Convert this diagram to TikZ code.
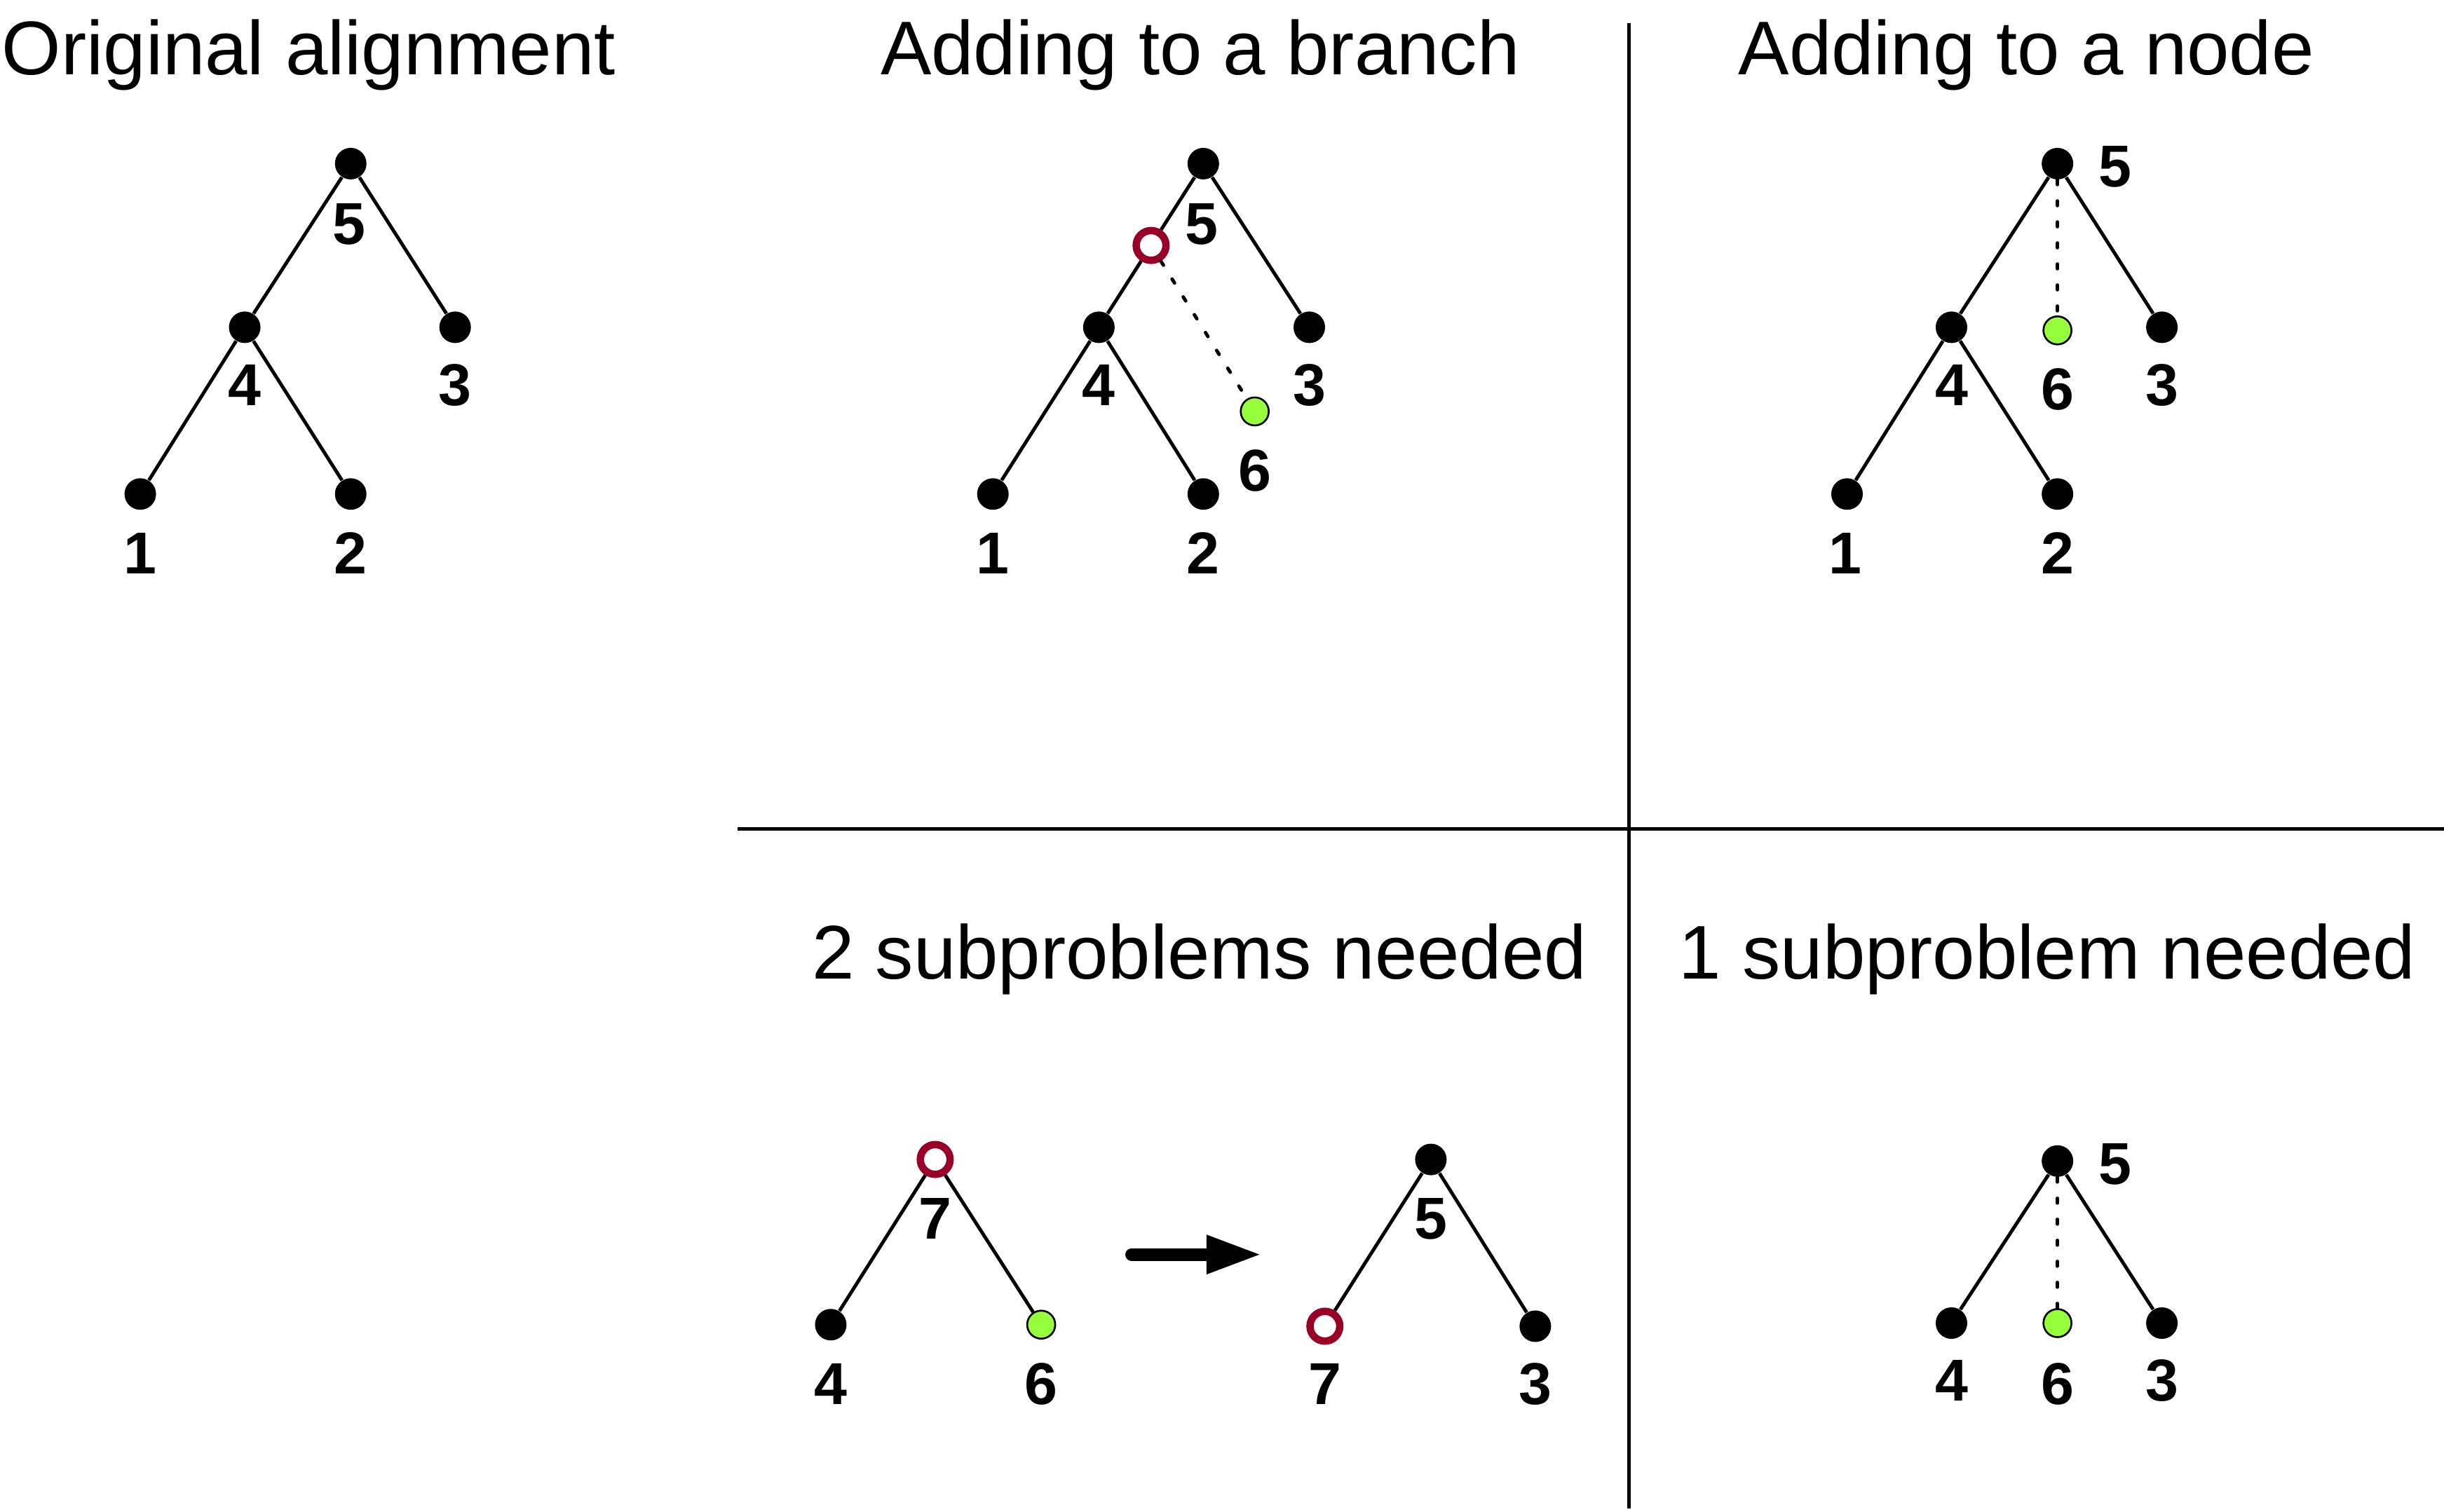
\documentclass[tikz,border=0pt]{standalone}
\usepackage{fontspec}
\setmainfont{Liberation Sans}
\definecolor{nodered}{RGB}{153,0,40}
\definecolor{nodegreen}{RGB}{150,255,60}
\begin{document}
\begin{tikzpicture}[x=0.022232cm,y=-0.022232cm,
  dot/.style={circle,fill=black,inner sep=0pt,minimum size=0.45cm},
  newleaf/.style={circle,fill=nodegreen,draw=black,line width=0.75pt,inner sep=0pt,minimum size=0.40cm},
  newint/.style={circle,fill=white,draw=nodered,line width=0.105cm,inner sep=0pt,minimum size=0.425cm},
  lbl/.style={font=\fontsize{24}{24}\selectfont\bfseries,inner sep=0pt},
  ttl/.style={font=\fontsize{30.9}{30.9}\selectfont,inner sep=0pt,anchor=base},
  treeline/.style={line width=1.4pt},
  dotline/.style={line width=1.4pt,line cap=round,dash pattern=on 0.067cm off 0.233cm},
  divider/.style={line width=1.3pt}]
\useasboundingbox (0,0) rectangle (1568,970.2);

% dividers
\coordinate (vtop) at (1045,15);
\coordinate (vbot) at (1045,968);
\coordinate (hl) at (473,532);
\coordinate (hr) at (1568,532);
\draw[divider] (vtop) -- (vbot);
\draw[divider] (hl) -- (hr);

% titles
\node[ttl,anchor=base west] (t1) at (1,48) {Original alignment};
\node[ttl] (t2) at (770,48) {Adding to a branch};
\node[ttl] (t3) at (1300,48) {Adding to a node};
\node[ttl] (t4) at (769.5,628) {2 subproblems needed};
\node[ttl] (t5) at (1313.5,628) {1 subproblem needed};

% ---- Original alignment
\node[dot] (a5) at (225,105) {};
\node[dot] (a4) at (157,210) {};
\node[dot] (a3) at (292,210) {};
\node[dot] (a1) at (90,317) {};
\node[dot] (a2) at (225,317) {};
\draw[treeline] (a5) -- (a4) (a5) -- (a3) (a4) -- (a1) (a4) -- (a2);
\node[lbl] (la5) at (224,144) {5};
\node[lbl] (la4) at (157,247) {4};
\node[lbl] (la3) at (292,247) {3};
\node[lbl] (la1) at (90,355) {1};
\node[lbl] (la2) at (225,355) {2};

% ---- Adding to a branch
\node[dot] (b5) at (772,105) {};
\node[dot] (b4) at (705,210) {};
\node[dot] (b3) at (840,210) {};
\node[dot] (b1) at (637,317) {};
\node[dot] (b2) at (772,317) {};
\node[newint] (b7) at (738.5,157.5) {};
\node[newleaf] (b6) at (805,264) {};
\draw[treeline] (b5) -- (b7) (b7) -- (b4) (b5) -- (b3) (b4) -- (b1) (b4) -- (b2);
\draw[dotline] (b7) -- (b6);
\node[lbl] (lb5) at (771,144) {5};
\node[lbl] (lb4) at (705,247) {4};
\node[lbl] (lb3) at (840,247) {3};
\node[lbl] (lb6) at (805,302) {6};
\node[lbl] (lb1) at (637,355) {1};
\node[lbl] (lb2) at (772,355) {2};

% ---- Adding to a node
\node[dot] (c5) at (1320,105) {};
\node[dot] (c4) at (1252,210) {};
\node[dot] (c3) at (1387,210) {};
\node[dot] (c1) at (1185,317) {};
\node[dot] (c2) at (1320,317) {};
\node[newleaf] (c6) at (1320,212) {};
\draw[treeline] (c5) -- (c4) (c5) -- (c3) (c4) -- (c1) (c4) -- (c2);
\draw[dotline] (c5) -- (c6);
\node[lbl] (lc5) at (1357,107) {5};
\node[lbl] (lc4) at (1252,247) {4};
\node[lbl] (lc6) at (1320,250) {6};
\node[lbl] (lc3) at (1387,247) {3};
\node[lbl] (lc1) at (1184,355) {1};
\node[lbl] (lc2) at (1320,355) {2};

% ---- 2 subproblems needed
\node[newint] (d7) at (600,744) {};
\node[dot] (d4) at (533,850) {};
\node[newleaf] (d6) at (668,850) {};
\draw[treeline] (d7) -- (d4) (d7) -- (d6);
\node[lbl] (ld7) at (600,782) {7};
\node[lbl] (ld4) at (533,888) {4};
\node[lbl] (ld6) at (668,888) {6};

\coordinate (arrS) at (726,805);
\coordinate (arrM) at (775,805);
\coordinate (arrE) at (808,805);
\draw[line width=0.18cm,line cap=round] (arrS) -- (arrM);
\fill[shift={(arrE)}] (-34,-12.8) -- (0,0) -- (-34,12.8) -- cycle;

\node[dot] (e5) at (918,744) {};
\node[newint] (e7) at (850,851) {};
\node[dot] (e3) at (985,851) {};
\draw[treeline] (e5) -- (e7) (e5) -- (e3);
\node[lbl] (le5) at (918,782) {5};
\node[lbl] (le7) at (850,888) {7};
\node[lbl] (le3) at (985,888) {3};

% ---- 1 subproblem needed
\node[dot] (f5) at (1320,745) {};
\node[dot] (f4) at (1252,849) {};
\node[newleaf] (f6) at (1320,849) {};
\node[dot] (f3) at (1387,849) {};
\draw[treeline] (f5) -- (f4) (f5) -- (f3);
\draw[dotline] (f5) -- (f6);
\node[lbl] (lf5) at (1357,747) {5};
\node[lbl] (lf4) at (1252,886) {4};
\node[lbl] (lf6) at (1320,888) {6};
\node[lbl] (lf3) at (1387,886) {3};
\end{tikzpicture}
\end{document}
